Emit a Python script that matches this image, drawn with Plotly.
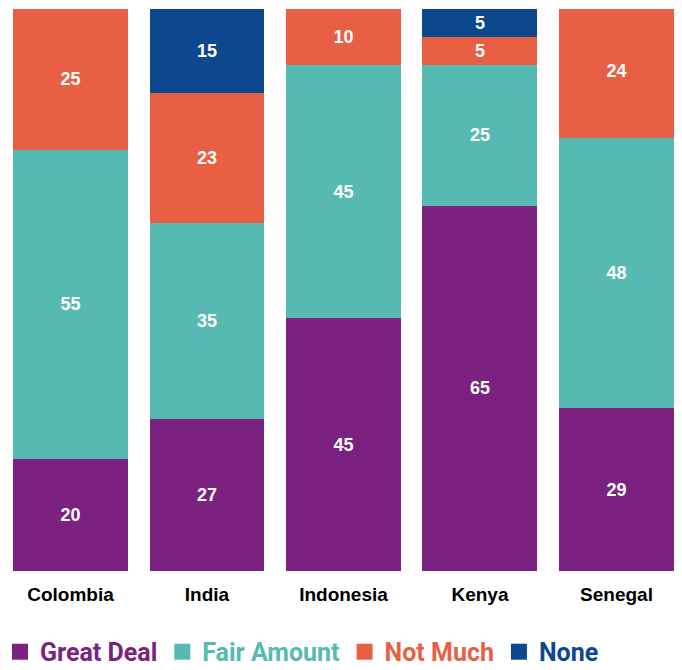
import plotly.graph_objects as go

countries = ["Colombia", "India", "Indonesia", "Kenya", "Senegal"]
great_deal = [20, 27, 45, 65, 29]
fair_amount = [55, 35, 45, 25, 48]
not_much = [25, 23, 10, 5, 24]
none = [None, 15, None, 5, None]

series = [
    ("Great Deal", great_deal, "#7B2281"),
    ("Fair Amount", fair_amount, "#56BAB2"),
    ("Not Much", not_much, "#E95F43"),
    ("None", none, "#0D478E"),
]

FONT = "Liberation Sans, Arial, sans-serif"
LEGEND_FONT = "Roboto, Liberation Sans, sans-serif"

fig = go.Figure()
for name, vals, color in series:
    fig.add_trace(go.Bar(
        x=countries, y=vals, name=name,
        marker=dict(color=color, line=dict(width=0)),
        text=[("" if v is None else str(v)) for v in vals],
        textposition="inside", insidetextanchor="middle",
        textfont=dict(family=FONT, size=18, color="white", weight="bold"),
        showlegend=False, hoverinfo="skip",
    ))
    # legend entry with a larger square swatch
    fig.add_trace(go.Scatter(
        x=[None], y=[None], mode="markers",
        name=f"<span style='color:{color}'>{name}</span>",
        marker=dict(symbol="square", size=20, color=color),
        showlegend=True,
    ))

fig.update_layout(
    width=682, height=670,
    barmode="stack", bargap=0.1575,
    margin=dict(l=0, r=0, t=9, b=99, autoexpand=False),
    plot_bgcolor="white", paper_bgcolor="white",
    font=dict(family=FONT),
    legend=dict(
        orientation="h", x=0, xanchor="left", y=-0.185, yanchor="bottom",
        traceorder="normal", itemsizing="trace",
        font=dict(family=LEGEND_FONT, size=25, weight="bold"),
        bgcolor="rgba(0,0,0,0)",
    ),
    xaxis=dict(
        range=[-0.5165, 4.48],
        showgrid=False, zeroline=False, showline=False,
        ticks="outside", ticklen=6, tickcolor="rgba(0,0,0,0)",
        tickfont=dict(family=FONT, size=19, color="black", weight="bold"),
    ),
    yaxis=dict(range=[0, 100], visible=False, showgrid=False),
)

fig.write_html("out.html")
